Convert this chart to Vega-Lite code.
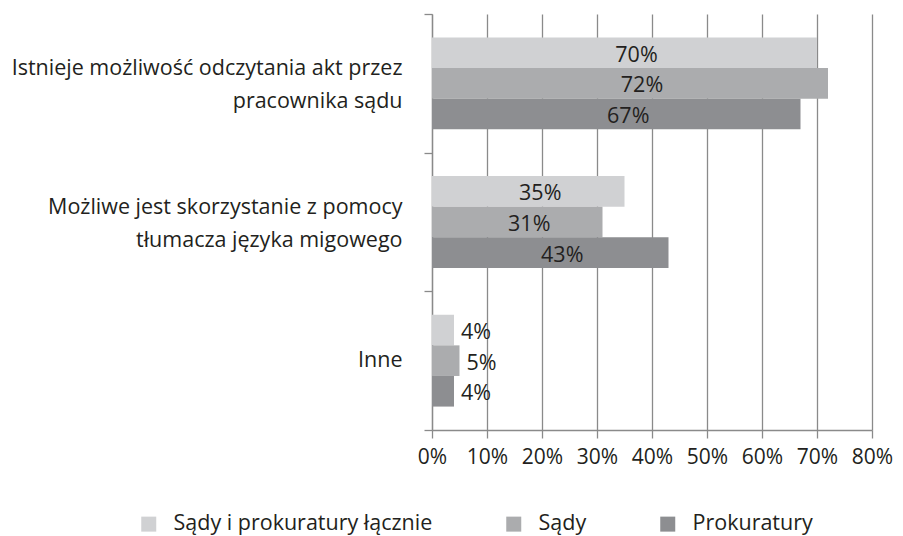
{
  "$schema": "https://vega.github.io/schema/vega-lite/v6.json",
  "width": 440,
  "height": 416,
  "autosize": {"type": "none"},
  "padding": {"left": 432, "top": 14, "right": 31, "bottom": 106},
  "background": "white",
  "config": {
    "font": "Open Sans",
    "view": {"stroke": null},
    "axis": {"labelColor": "#231f20", "domainColor": "#8a8a8a", "tickColor": "#8a8a8a", "domainWidth": 1.3, "tickWidth": 1.3}
  },
  "data": {
    "values": [
      {"kategoria": "Istnieje możliwość odczytania akt przez pracownika sądu", "grupa": "Sądy i prokuratury łącznie", "wartosc": 0.70},
      {"kategoria": "Istnieje możliwość odczytania akt przez pracownika sądu", "grupa": "Sądy", "wartosc": 0.72},
      {"kategoria": "Istnieje możliwość odczytania akt przez pracownika sądu", "grupa": "Prokuratury", "wartosc": 0.67},
      {"kategoria": "Możliwe jest skorzystanie z pomocy tłumacza języka migowego", "grupa": "Sądy i prokuratury łącznie", "wartosc": 0.35},
      {"kategoria": "Możliwe jest skorzystanie z pomocy tłumacza języka migowego", "grupa": "Sądy", "wartosc": 0.31},
      {"kategoria": "Możliwe jest skorzystanie z pomocy tłumacza języka migowego", "grupa": "Prokuratury", "wartosc": 0.43},
      {"kategoria": "Inne", "grupa": "Sądy i prokuratury łącznie", "wartosc": 0.04},
      {"kategoria": "Inne", "grupa": "Sądy", "wartosc": 0.05},
      {"kategoria": "Inne", "grupa": "Prokuratury", "wartosc": 0.04}
    ]
  },
  "encoding": {
    "y": {
      "field": "kategoria",
      "type": "nominal",
      "sort": null,
      "scale": {"paddingInner": 0, "paddingOuter": 0},
      "axis": {
        "title": null,
        "tickBand": "extent",
        "tickSize": 8,
        "labelPadding": 22,
        "labelFontSize": 21.5,
        "labelLineHeight": 33,
        "labelLimit": 500,
        "labelOffset": {"condition": {"test": "datum.value == 'Inne'", "value": 0}, "value": -15},
        "labelExpr": "split(replace(replace(datum.label, ' przez ', ' przez|'), ' pomocy ', ' pomocy|'), '|')"
      }
    },
    "yOffset": {
      "field": "grupa",
      "type": "nominal",
      "sort": ["Sądy i prokuratury łącznie", "Sądy", "Prokuratury"],
      "scale": {"paddingInner": 0, "paddingOuter": 0.765}
    }
  },
  "layer": [
    {
      "mark": {"type": "bar"},
      "encoding": {
        "x": {
          "field": "wartosc",
          "type": "quantitative",
          "scale": {"domain": [0, 0.8], "nice": false},
          "axis": {
            "title": null,
            "format": ".0%",
            "values": [0, 0.1, 0.2, 0.3, 0.4, 0.5, 0.6, 0.7, 0.8],
            "grid": true,
            "gridColor": "#8a8a8a",
            "gridWidth": 1.3,
            "tickSize": 8,
            "labelPadding": 8,
            "labelFontSize": 21,
            "labelFlush": false
          }
        },
        "color": {
          "field": "grupa",
          "type": "nominal",
          "scale": {
            "domain": ["Sądy i prokuratury łącznie", "Sądy", "Prokuratury"],
            "range": ["#d0d1d3", "#abacae", "#8d8e91"]
          },
          "legend": {
            "orient": "none",
            "legendX": -294,
            "legendY": 499,
            "direction": "horizontal",
            "title": null,
            "symbolType": "square",
            "symbolSize": 225,
            "symbolStrokeWidth": 0,
            "labelFontSize": 21.5,
            "labelOffset": 14,
            "labelColor": "#231f20",
            "columnPadding": 70,
            "labelLimit": 400
          }
        }
      }
    },
    {
      "transform": [{"filter": "datum.wartosc >= 0.1"}],
      "mark": {"type": "text", "dx": 12, "dy": 3, "fontSize": 21.5, "color": "#231f20", "baseline": "middle"},
      "encoding": {
        "x": {"field": "wartosc", "type": "quantitative", "scale": {"domain": [0, 1.6], "nice": false}, "axis": null},
        "text": {"field": "wartosc", "type": "quantitative", "format": ".0%"}
      }
    },
    {
      "transform": [{"filter": "datum.wartosc < 0.1"}],
      "mark": {"type": "text", "dx": 7, "dy": 3, "align": "left", "fontSize": 21.5, "color": "#231f20", "baseline": "middle"},
      "encoding": {
        "x": {"field": "wartosc", "type": "quantitative", "scale": {"domain": [0, 0.8], "nice": false}, "axis": null},
        "text": {"field": "wartosc", "type": "quantitative", "format": ".0%"}
      }
    }
  ],
  "resolve": {"scale": {"x": "independent"}}
}
